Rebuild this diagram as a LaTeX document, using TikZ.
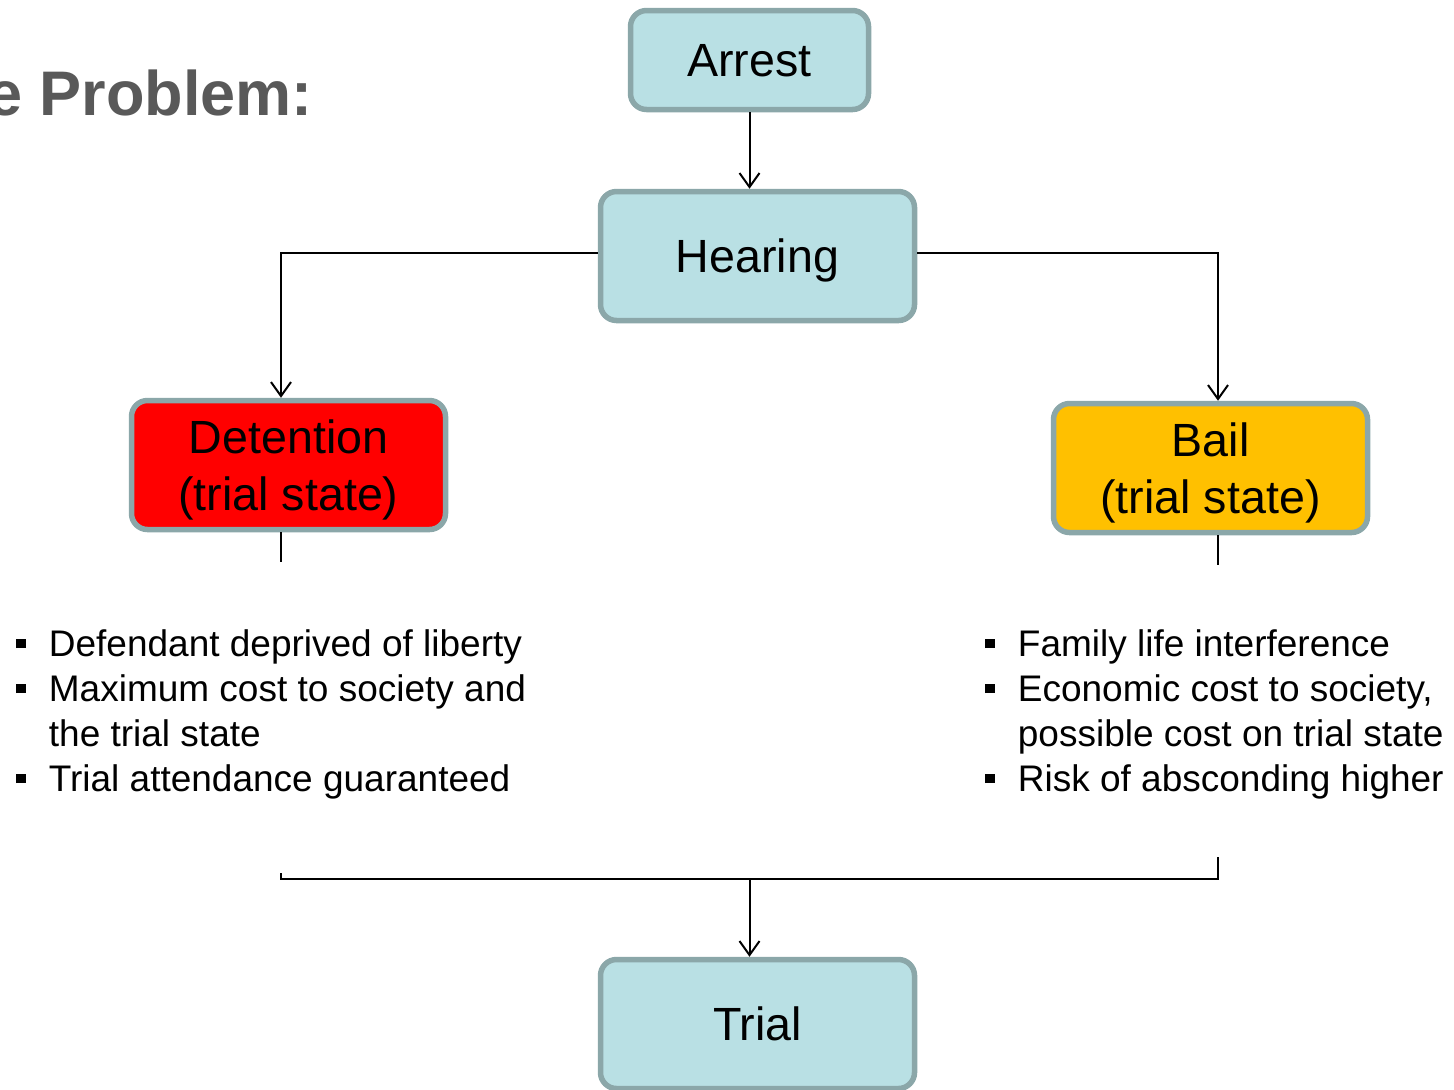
\documentclass[tikz,border=0pt]{standalone}
\usepackage{fontspec}
\setmainfont{Liberation Sans}
\usetikzlibrary{positioning, arrows.meta}
\definecolor{boxfill}{RGB}{185,224,228}
\definecolor{boxline}{RGB}{139,167,169}
\definecolor{amber}{RGB}{255,192,0}
\definecolor{titlegray}{RGB}{89,89,89}
\tikzset{% 
	>={Straight Barb[length=7pt, width=10pt, line width=1pt]},
	link/.style = {line width = 1pt},
	stage/.style = {name = #1, rectangle, rounded corners = 8pt, draw = boxline, line width = 2.75pt, fill = boxfill, minimum width = 157pt, minimum height = 64.5pt, align = center, text depth = 0pt, font = \fontsize{23.3}{28.5}\selectfont},
	bul/.style = {name = #1, anchor = base west, inner sep = 0pt, font = \fontsize{18.5}{22.5}\selectfont}
}
\newcommand{\sq}{\rule[4pt]{4.75pt}{4.75pt}}

\begin{document}
\begin{tikzpicture}[x = 0.5pt, y = -0.5pt]
			\clip (0,0) rectangle (1454,1089);
			\node [anchor = base east, inner sep = 0pt, text = titlegray, font = \fontsize{31.5}{36}\selectfont\bfseries] (title) at (313,115) {The Problem:};
			\node [stage = {Arrest}, minimum width = 119pt, minimum height = 49.5pt] at (749.5,60) {Arrest};
			\node [stage = {Hearing}] at (757.5,256) {Hearing};
			\node [stage = {Detention}, fill = red] at (288.5,465) {Detention\\(trial state)};
			\node [stage = {Bail}, fill = amber] at (1210.5,468) {Bail\\(trial state)};
			\node [stage = {Trial}] at (757.5,1024) {Trial};
			\node [bul = {cons}] at (16,656) {\begin{tabular}[t]{@{}l@{\hspace{11.5pt}}l@{}}
				\sq & Defendant deprived of liberty\\
				\sq & Maximum cost to society and\\
				    & the trial state\\
				\sq & Trial attendance guaranteed
			\end{tabular}};
			\node [bul = {pros}] at (985,656) {\begin{tabular}[t]{@{}l@{\hspace{11.5pt}}l@{}}
				\sq & Family life interference\\
				\sq & Economic cost to society,\\
				    & possible cost on trial state\\
				\sq & Risk of absconding higher
			\end{tabular}};
			\coordinate (mergeL) at (281,873);
			\coordinate (mergeR) at (1218,857);
			\coordinate (merge) at (749.5,879);
			\draw [->, link] (Arrest.south) -- (Arrest.south |- Hearing.north);
			\draw [->, link] ([yshift = 1.5pt]Hearing.west) -| ([xshift = -3.75pt]Detention.north);
			\draw [->, link] ([yshift = 1.5pt]Hearing.east) -| ([xshift = 3.75pt]Bail.north);
			\draw [link] ([xshift = -3.75pt]Detention.south) -- ++(0,30);
			\draw [link] ([xshift = 3.75pt]Bail.south) -- ++(0,30);
			\draw [link] (mergeL) |- (merge) -| (mergeR);
			\draw [->, link] (merge) -- (merge |- Trial.north);
			\end{tikzpicture}
\end{document}
